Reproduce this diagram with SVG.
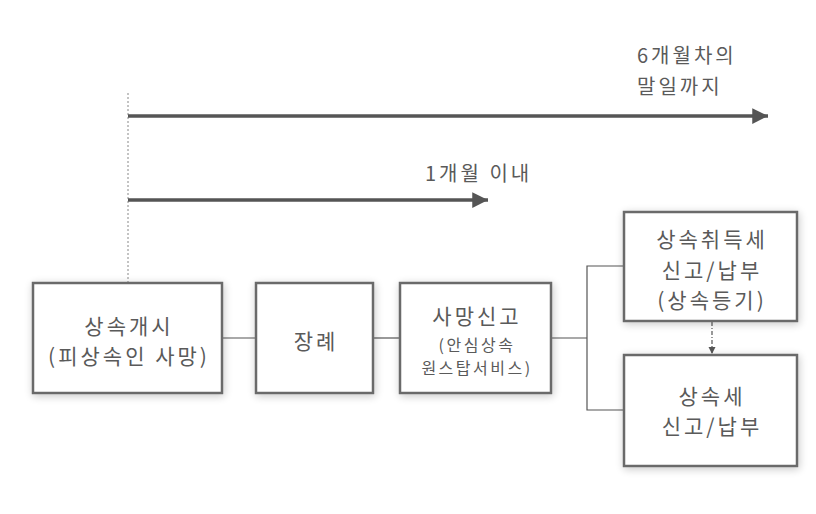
<svg xmlns="http://www.w3.org/2000/svg" width="816" height="514" viewBox="0 0 816 514">
<defs>
<style>
.box{fill:#ffffff;stroke:#6a6a6a;stroke-width:2.5;filter:url(#sh)}
.t{font-family:"Noto Sans CJK KR","Noto Sans",sans-serif;fill:#5a5a5a;text-anchor:middle;dominant-baseline:central}
.big{font-size:21px;letter-spacing:3px}
.sm{font-size:16px;letter-spacing:2.5px}
.top{font-size:20px;letter-spacing:3px;text-anchor:start}
.con{fill:none;stroke:#555;stroke-width:1.2}
.arr{fill:none;stroke:#555;stroke-width:3.5}
</style>
<filter id="sh" x="-20%" y="-20%" width="140%" height="140%">
<feGaussianBlur in="SourceAlpha" stdDeviation="4"/>
<feOffset dx="1" dy="2" result="b"/>
<feComponentTransfer><feFuncA type="linear" slope="0.22"/></feComponentTransfer>
<feMerge><feMergeNode/><feMergeNode in="SourceGraphic"/></feMerge>
</filter>
<marker id="ah" viewBox="0 0 10 10" refX="10" refY="5" markerWidth="5.5" markerHeight="4.5" markerUnits="strokeWidth" orient="auto"><path d="M0,0 L10,5 L0,10 z" fill="#555"/></marker>
<marker id="ahs" viewBox="0 0 10 10" refX="10" refY="5" markerWidth="6" markerHeight="6" markerUnits="strokeWidth" orient="auto"><path d="M0,0 L10,5 L0,10 z" fill="#555"/></marker>
</defs>
<rect width="816" height="514" fill="#ffffff"/>
<g id="connectors">
<line x1="128" y1="93" x2="128" y2="283" stroke="#888" stroke-width="1" stroke-dasharray="2,2"/>
<line class="arr" x1="128" y1="116" x2="768" y2="116" marker-end="url(#ah)"/>
<line class="arr" x1="128" y1="200" x2="488" y2="200" marker-end="url(#ah)"/>
<line class="con" x1="222" y1="338" x2="256" y2="338"/>
<line class="con" x1="373" y1="338" x2="400" y2="338"/>
<path class="con" d="M551,338 H587 M624,266 H587 V410 H624"/>
<line class="con" x1="712" y1="322" x2="712" y2="354" stroke-dasharray="4,2,1,2" marker-end="url(#ahs)"/>
</g>
<g id="label-6m"><text class="t top" x="637" y="54">6개월차의</text><text class="t top" x="637" y="85">말일까지</text></g>
<g id="label-1m"><text class="t top" x="425" y="172">1개월 이내</text></g>
<g id="n1"><rect class="box" x="33" y="283" width="189" height="110"/><text class="t big" x="129" y="325">상속개시</text><text class="t big" x="129" y="355">(피상속인 사망)</text></g>
<g id="n2"><rect class="box" x="256" y="283" width="117" height="110"/><text class="t big" x="316" y="340">장례</text></g>
<g id="n3"><rect class="box" x="400" y="283" width="151" height="110"/><text class="t big" x="477" y="315">사망신고</text><text class="t sm" x="477" y="344">(안심상속</text><text class="t sm" x="477" y="367">원스탑서비스)</text></g>
<g id="n4"><rect class="box" x="624" y="212" width="173" height="109"/><text class="t big" x="712" y="238">상속취득세</text><text class="t big" x="712" y="269">신고/납부</text><text class="t big" x="712" y="299">(상속등기)</text></g>
<g id="n5"><rect class="box" x="624" y="355" width="173" height="111"/><text class="t big" x="712" y="395">상속세</text><text class="t big" x="712" y="425">신고/납부</text></g>
</svg>
